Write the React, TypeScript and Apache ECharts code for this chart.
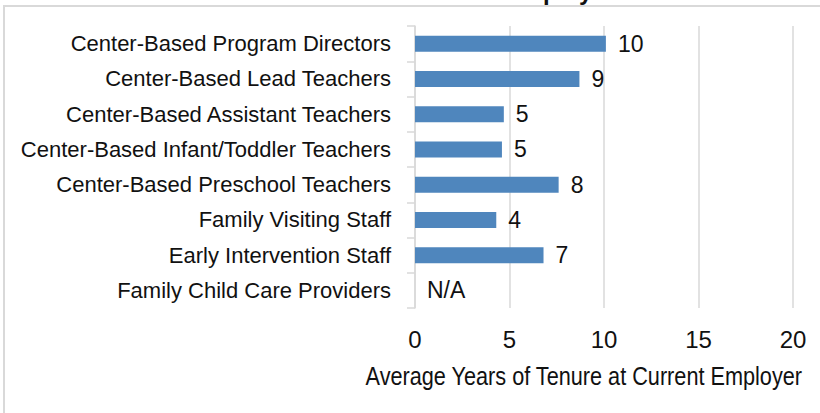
import React, { useEffect, useRef } from "react";
import * as echarts from "echarts";

const categories = [
  "Center-Based Program Directors",
  "Center-Based Lead Teachers",
  "Center-Based Assistant Teachers",
  "Center-Based Infant/Toddler Teachers",
  "Center-Based Preschool Teachers",
  "Family Visiting Staff",
  "Early Intervention Staff",
  "Family Child Care Providers",
];
const tenureYears: (number | null)[] = [10.1, 8.7, 4.7, 4.6, 7.6, 4.3, 6.8, null];
const valueLabels = ["10", "9", "5", "5", "8", "4", "7", "N/A"];
const xTicks = { min: 0, max: 20, interval: 5 };
const xAxisTitle = "Average Years of Tenure at Current Employer";
const chartTitle = "Tenure with Current Employer";

export default function App() {
  const ref = useRef<HTMLDivElement>(null);
  useEffect(() => {
    if (!ref.current) return;
    const chart = echarts.init(ref.current, undefined, { renderer: "svg" });
    const font = "'Liberation Sans', Arial, sans-serif";
    chart.setOption({
      animation: false,
      backgroundColor: "#ffffff",
      grid: { left: 415, right: 27, top: 26, bottom: 105, containLabel: false },
      xAxis: {
        type: "value",
        min: xTicks.min,
        max: xTicks.max,
        interval: xTicks.interval,
        axisLine: { show: false },
        axisTick: { show: false },
        splitLine: { show: true, lineStyle: { color: "#d9d9d9", width: 1.5 } },
        axisLabel: {
          fontFamily: font,
          fontSize: 24,
          color: "#111",
          margin: 19,
        },
      },
      yAxis: {
        type: "category",
        inverse: true,
        data: categories,
        axisLine: { show: true, lineStyle: { color: "#d9d9d9", width: 1.5 } },
        axisTick: { show: true, length: 8, lineStyle: { color: "#d9d9d9", width: 1.5 } },
        axisLabel: { fontFamily: font, fontSize: 22, color: "#111", margin: 24 },
      },
      series: [
        {
          type: "bar",
          data: tenureYears.map((v) => (v === null ? 0 : v)),
          barWidth: 16,
          itemStyle: { color: "#4f86bd" },
          label: {
            show: true,
            position: "right",
            distance: 12,
            fontFamily: font,
            fontSize: 23,
            color: "#111",
            formatter: (p: any) => valueLabels[p.dataIndex],
          },
        },
      ],
      graphic: [
        {
          type: "rect",
          silent: true,
          shape: { x: 4, y: 6, width: 830, height: 420 },
          style: { fill: "none", stroke: "#d9d9d9", lineWidth: 2 },
        },
        {
          type: "text",
          x: 615,
          y: -9,
          silent: true,
          style: {
            text: chartTitle,
            font: "bold 24px 'Liberation Sans', Arial, sans-serif",
            fill: "#111",
            align: "right",
            verticalAlign: "middle",
          },
        },
        {
          type: "text",
          x: 802,
          y: 376,
          scaleX: 0.85,
          silent: true,
          style: {
            text: xAxisTitle,
            font: "25.5px 'Liberation Sans', Arial, sans-serif",
            fill: "#111",
            align: "right",
            verticalAlign: "middle",
          },
        },
      ],
    });
    return () => chart.dispose();
  }, []);
  return (
    <div
      ref={ref}
      style={{ position: "fixed", left: 0, top: 0, width: 820, height: 413, background: "#fff" }}
    />
  );
}
